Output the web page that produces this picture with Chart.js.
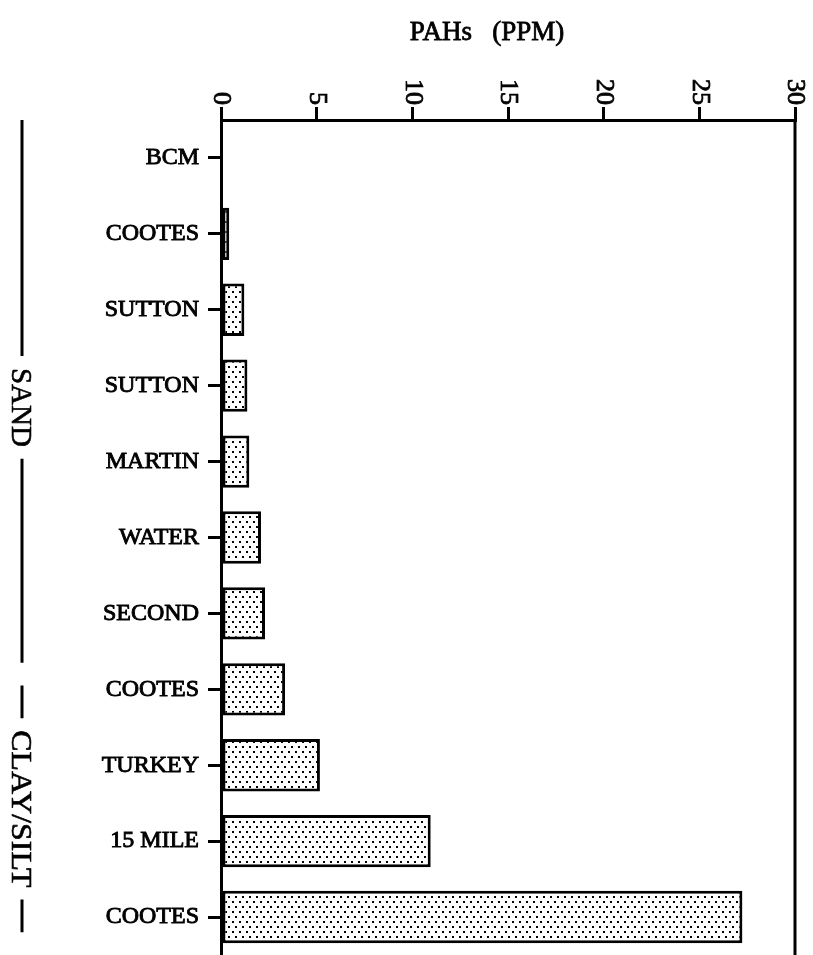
<!DOCTYPE html>
<html>
<head>
<meta charset="utf-8">
<script src="https://cdn.jsdelivr.net/npm/chart.js@4.4.0/dist/chart.umd.min.js"></script>
<style>
html, body { margin: 0; padding: 0; background: #fff; }
canvas { display: block; }
</style>
</head>
<body>
<canvas id="pahChart" width="813" height="955"></canvas>
<script>
// Data
const sites = ['BCM', 'COOTES', 'SUTTON', 'SUTTON', 'MARTIN', 'WATER', 'SECOND', 'COOTES', 'TURKEY', '15 MILE', 'COOTES'];
const pahPpm = [0, 0.43, 1.22, 1.38, 1.48, 2.09, 2.3, 3.35, 5.17, 10.96, 27.25];
const xTicks = [0, 5, 10, 15, 20, 25, 30];
const groupNames = ['SAND', 'CLAY/SILT'];
const groupFrom = [-0.5, 6.95];   // category index where the bracket starts
const groupTo = [6.65, 10.2];     // category index where the bracket ends

const serif = '"Liberation Serif", "Times New Roman", serif';

// Dotted fill like the printed screen tone
function dotPattern() {
    const c = document.createElement('canvas');
    c.width = 7; c.height = 10;
    const g = c.getContext('2d');
    g.fillStyle = '#fff';
    g.fillRect(0, 0, 7, 10);
    g.fillStyle = '#000';
    g.fillRect(1, 1, 2, 2);
    g.fillRect(4, 6, 2, 2);
    return g.createPattern(c, 'repeat');
}

// Rotated tick numbers, title, right frame line and group brackets
const extras = {
    id: 'extras',
    afterDraw(chart) {
        const { ctx, chartArea, scales: { x, y } } = chart;
        ctx.save();
        ctx.fillStyle = '#000';
        ctx.strokeStyle = '#000';

        // right frame line
        ctx.lineWidth = 3;
        ctx.beginPath();
        ctx.moveTo(chartArea.right, chartArea.top);
        ctx.lineTo(chartArea.right, chartArea.bottom);
        ctx.stroke();

        // x tick labels, turned clockwise
        ctx.font = '26px ' + serif;
        ctx.textAlign = 'right';
        ctx.textBaseline = 'middle';
        ctx.lineWidth = 0.8;
        xTicks.forEach(v => {
            ctx.save();
            ctx.translate(x.getPixelForValue(v), chartArea.top - 15);
            ctx.rotate(Math.PI / 2);
            ctx.fillText(String(v), 0, 0);
            ctx.strokeText(String(v), 0, 0);
            ctx.restore();
        });

        // title
        ctx.font = '27px ' + serif;
        ctx.textAlign = 'center';
        ctx.textBaseline = 'alphabetic';
        ctx.fillText('PAHs   (PPM)', chartArea.left + 266, 40);
        ctx.strokeText('PAHs   (PPM)', chartArea.left + 266, 40);

        // group brackets on the left
        const bx = 22;
        const stretch = [1.0, 1.1];
        const shift = [16, 0];
        ctx.font = '29px ' + serif;
        groupNames.forEach((name, i) => {
            const y0 = y.getPixelForValue(groupFrom[i]);
            const y1 = y.getPixelForValue(groupTo[i]);
            const w = ctx.measureText(name).width * stretch[i];
            const mid = (y0 + y1) / 2 + shift[i];
            const gap = 12;
            ctx.lineWidth = 3;
            ctx.beginPath();
            ctx.moveTo(bx, y0);
            ctx.lineTo(bx, mid - w / 2 - gap);
            ctx.moveTo(bx, mid + w / 2 + gap);
            ctx.lineTo(bx, y1);
            ctx.stroke();
            ctx.save();
            ctx.translate(bx - 2, mid);
            ctx.rotate(Math.PI / 2);
            ctx.scale(stretch[i], 1);
            ctx.textAlign = 'center';
            ctx.textBaseline = 'middle';
            ctx.lineWidth = 0.6;
            ctx.fillText(name, 0, 0);
            ctx.strokeText(name, 0, 0);
            ctx.restore();
        });
        ctx.restore();
    }
};

const ctx = document.getElementById('pahChart').getContext('2d');
new Chart(ctx, {
    type: 'bar',
    data: {
        labels: sites,
        datasets: [{
            data: pahPpm,
            backgroundColor: dotPattern(),
            borderColor: '#000',
            borderWidth: 3,
            borderSkipped: false,
            barPercentage: 0.69,
            categoryPercentage: 1
        }]
    },
    options: {
        indexAxis: 'y',
        responsive: false,
        animation: false,
        devicePixelRatio: 1,
        layout: { padding: { top: 0, right: 18, bottom: 0, left: 0 } },
        plugins: { legend: { display: false }, tooltip: { enabled: false } },
        scales: {
            x: {
                position: 'top',
                min: 0,
                max: 30,
                ticks: { stepSize: 5, display: false },
                grid: { drawOnChartArea: false, drawTicks: true, tickLength: 13, lineWidth: 3, color: '#000' },
                border: { display: true, width: 3, color: '#000' },
                afterFit: s => { s.height = 120; s.paddingLeft = 0; s.paddingRight = 0; }
            },
            y: {
                ticks: {
                    color: '#000',
                    padding: 9,
                    font: { family: serif, size: 24 },
                    textStrokeColor: '#000',
                    textStrokeWidth: 0.9
                },
                grid: { offset: false, drawOnChartArea: false, tickLength: 13, lineWidth: 3, color: '#000' },
                border: { display: true, width: 3, color: '#000' },
                afterFit: s => { s.width = 221; s.paddingTop = 0; s.paddingBottom = 0; }
            }
        }
    },
    plugins: [extras]
});
</script>
</body>
</html>
